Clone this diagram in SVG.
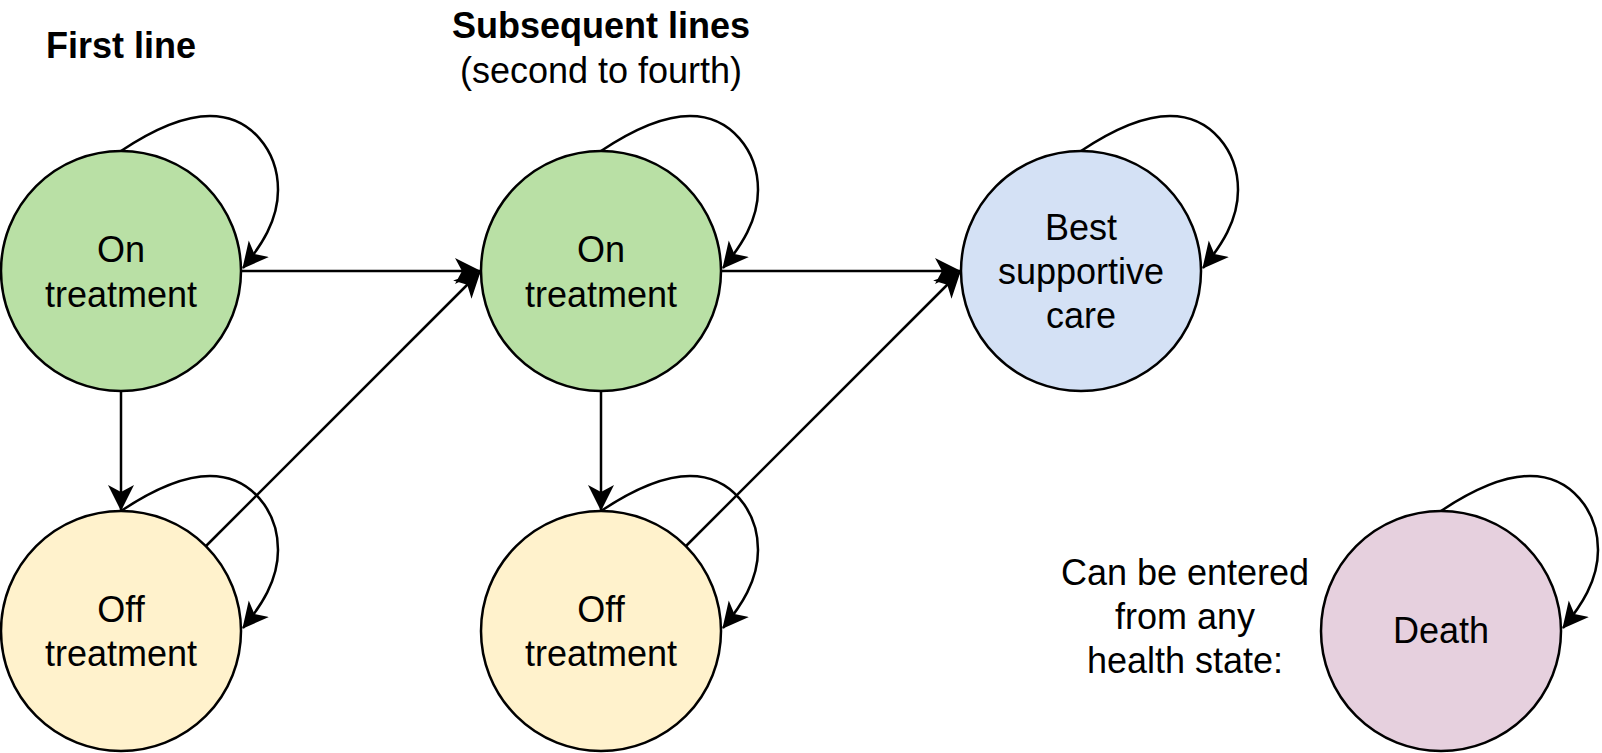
<svg xmlns="http://www.w3.org/2000/svg" width="1602" height="753" viewBox="0 0 1602 753">
<style>
  .node { stroke: #000; stroke-width: 2.5; }
  .on { fill: #B9E0A5; }
  .off { fill: #FFF2CC; }
  .bsc { fill: #D4E1F5; }
  .death { fill: #E6D0DE; }
  text { font-family: "Liberation Sans", Arial, sans-serif; font-size: 36px; fill: #000; text-anchor: middle; }
  .title { font-weight: bold; }
  .edge { fill: none; stroke: #000; stroke-width: 2.5; marker-end: url(#arr); }
</style>
<defs>
  <marker id="arr" markerUnits="userSpaceOnUse" markerWidth="28" markerHeight="28" viewBox="0 0 28 28" refX="25" refY="14" orient="auto">
    <path d="M26,14 L0,1 L7,14 L0,27 Z" fill="#000"/>
  </marker>
</defs>

<g id="labels">
  <text class="title" x="121" y="58">First line</text>
  <text class="title" x="601" y="38">Subsequent lines</text>
  <text x="601" y="83">(second to fourth)</text>
  <text x="1185" y="585">Can be entered</text>
  <text x="1185" y="629">from any</text>
  <text x="1185" y="673">health state:</text>
</g>

<g id="connectors">
  <!-- self loops -->
  <path class="edge" d="M121,151 C151,131 181,116 210,116 C251,116 278,151 278,190 C278,221 261,246 243,268"/>
  <path class="edge" d="M601,151 C631,131 661,116 690,116 C731,116 758,151 758,190 C758,221 741,246 723,268"/>
  <path class="edge" d="M1081,151 C1111,131 1141,116 1170,116 C1211,116 1238,151 1238,190 C1238,221 1221,246 1203,268"/>
  <path class="edge" d="M121,511 C151,491 181,476 210,476 C251,476 278,511 278,550 C278,581 261,606 243,628"/>
  <path class="edge" d="M601,511 C631,491 661,476 690,476 C731,476 758,511 758,550 C758,581 741,606 723,628"/>
  <path class="edge" d="M1441,511 C1471,491 1501,476 1530,476 C1571,476 1598,511 1598,550 C1598,581 1581,606 1563,628"/>
  <!-- straight transitions -->
  <path class="edge" d="M241,271 L480,271"/>
  <path class="edge" d="M721,271 L960,271"/>
  <path class="edge" d="M121,391 L121,510"/>
  <path class="edge" d="M601,391 L601,510"/>
  <path class="edge" d="M206,546 L480,272"/>
  <path class="edge" d="M686,546 L960,272"/>
</g>

<g id="on1">
  <circle class="node on" cx="121" cy="271" r="120"/>
  <text x="121" y="262">On</text>
  <text x="121" y="307">treatment</text>
</g>
<g id="off1">
  <circle class="node off" cx="121" cy="631" r="120"/>
  <text x="121" y="622">Off</text>
  <text x="121" y="666">treatment</text>
</g>
<g id="on2">
  <circle class="node on" cx="601" cy="271" r="120"/>
  <text x="601" y="262">On</text>
  <text x="601" y="307">treatment</text>
</g>
<g id="off2">
  <circle class="node off" cx="601" cy="631" r="120"/>
  <text x="601" y="622">Off</text>
  <text x="601" y="666">treatment</text>
</g>
<g id="bsc">
  <circle class="node bsc" cx="1081" cy="271" r="120"/>
  <text x="1081" y="240">Best</text>
  <text x="1081" y="284">supportive</text>
  <text x="1081" y="328">care</text>
</g>
<g id="death">
  <circle class="node death" cx="1441" cy="631" r="120"/>
  <text x="1441" y="643">Death</text>
</g>
</svg>
